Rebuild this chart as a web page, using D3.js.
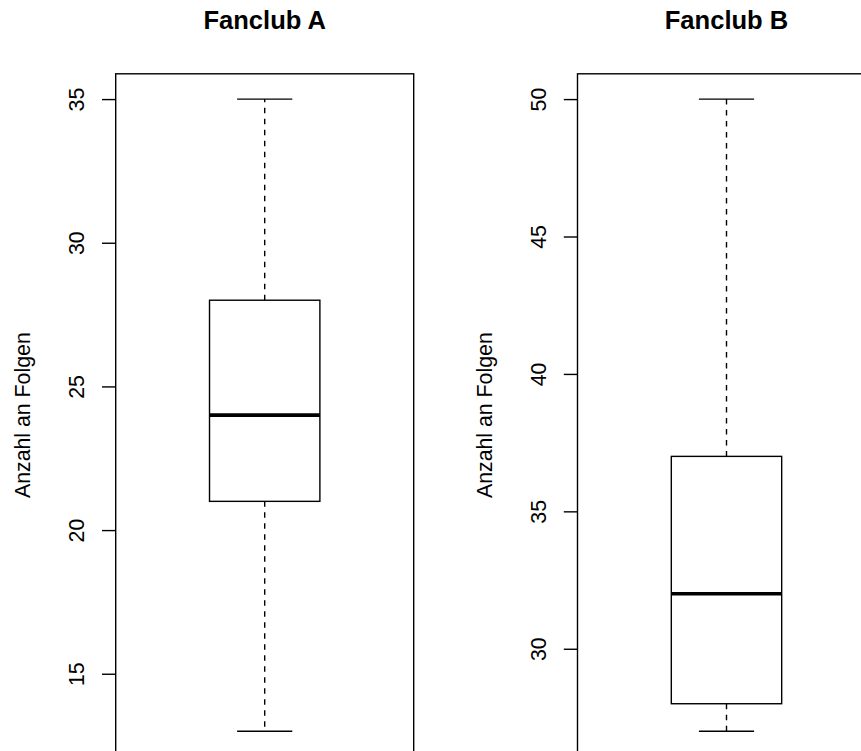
<!DOCTYPE html>
<html>
<head>
<meta charset="utf-8">
<script src="https://cdn.jsdelivr.net/npm/d3@7"></script>
<style>
  html, body { margin: 0; padding: 0; background: #fff; }
  svg { display: block; }
  text { font-family: "Liberation Sans", Arial, Helvetica, sans-serif; fill: #000; }
</style>
</head>
<body>
<script>
// Five-number summaries for the two fan clubs (episodes watched)
const clubs   = ["Fanclub A", "Fanclub B"];
const lowers  = [13, 27];
const q1s     = [21, 28];
const medians = [24, 32];
const q3s     = [28, 37];
const uppers  = [35, 50];
const yTicks  = [[15, 20, 25, 30, 35], [30, 35, 40, 45, 50]];
const yLabel  = "Anzahl an Folgen";

const W = 861, H = 751;
const baseFont = 21.3;
const panelOffsets = [115.7, 577.5];   // left edge of each plot frame
const plotW = 298;
const plotTop = 73.8, plotBottom = 756.5;

const svg = d3.select("body").append("svg")
  .attr("width", W).attr("height", H);

clubs.forEach((name, i) => {
  const left = panelOffsets[i];
  const lo = lowers[i], hi = uppers[i];
  const pad = 0.04 * (hi - lo);

  const y = d3.scaleLinear()
    .domain([lo - pad, hi + pad])
    .range([plotBottom, plotTop]);
  // single box at position 1, axis spans 0.46 .. 1.54
  const x = d3.scaleLinear()
    .domain([0.46, 1.54])
    .range([0, plotW]);

  const g = svg.append("g").attr("transform", `translate(${left},0)`);

  // whiskers with staples
  const cx = x(1);
  [[q3s[i], hi], [q1s[i], lo]].forEach(([a, b]) => {
    g.append("line")
      .attr("x1", cx).attr("x2", cx)
      .attr("y1", y(a)).attr("y2", y(b))
      .attr("stroke", "#000").attr("stroke-width", 1.4)
      .attr("stroke-dasharray", "5.5,5.5");
    g.append("line")
      .attr("x1", x(0.9)).attr("x2", x(1.1))
      .attr("y1", y(b)).attr("y2", y(b))
      .attr("stroke", "#000").attr("stroke-width", 1.4);
  });

  // box
  g.append("rect")
    .attr("x", x(0.8)).attr("width", x(1.2) - x(0.8))
    .attr("y", y(q3s[i])).attr("height", y(q1s[i]) - y(q3s[i]))
    .attr("fill", "#fff").attr("stroke", "#000").attr("stroke-width", 1.4);

  // median
  g.append("line")
    .attr("x1", x(0.8)).attr("x2", x(1.2))
    .attr("y1", y(medians[i])).attr("y2", y(medians[i]))
    .attr("stroke", "#000").attr("stroke-width", 3.6);

  // frame
  g.append("rect")
    .attr("x", 0).attr("y", plotTop)
    .attr("width", plotW).attr("height", plotBottom - plotTop)
    .attr("fill", "none").attr("stroke", "#000").attr("stroke-width", 1.4);

  // y axis with labels parallel to the axis
  const ax = g.append("g")
    .call(d3.axisLeft(y).tickValues(yTicks[i]).tickSize(13.7).tickFormat(d3.format("d")));
  ax.select(".domain").remove();
  ax.selectAll(".tick line").attr("stroke", "#000").attr("stroke-width", 1.4);
  ax.selectAll(".tick text")
    .attr("x", 0).attr("dy", 0)
    .attr("text-anchor", "middle")
    .attr("transform", "translate(-31.4,0) rotate(-90)")
    .style("font-size", baseFont + "px")
    .style("font-family", '"Liberation Sans", Arial, Helvetica, sans-serif')
    .attr("fill", "#000");

  // axis title
  g.append("text")
    .attr("transform", `translate(-86,${(plotTop + plotBottom) / 2}) rotate(-90)`)
    .attr("text-anchor", "middle")
    .style("font-size", baseFont + "px")
    .text(yLabel);

  // panel title
  g.append("text")
    .attr("x", plotW / 2).attr("y", 29.3)
    .attr("text-anchor", "middle")
    .style("font-size", (baseFont * 1.2) + "px")
    .style("font-weight", "bold")
    .text(name);
});
</script>
</body>
</html>
